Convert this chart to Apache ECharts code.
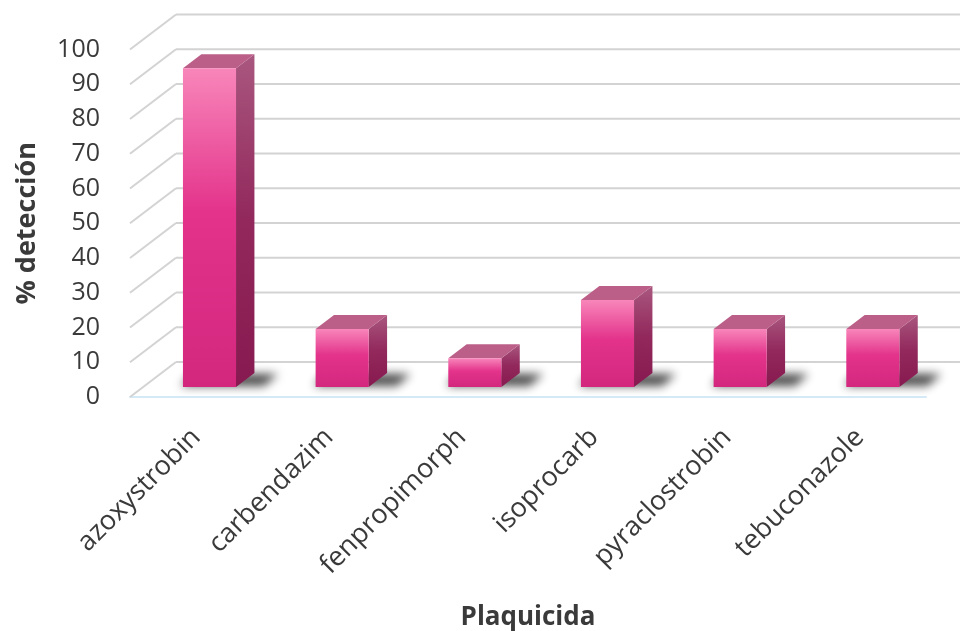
<!DOCTYPE html>
<html>
<head>
<meta charset="utf-8">
<script src="https://cdn.jsdelivr.net/npm/echarts@6/dist/echarts.min.js"></script>
<style>
  html, body { margin: 0; padding: 0; background: #fff; }
  #chart { width: 960px; height: 631px; }
</style>
</head>
<body>
<div id="chart"></div>
<script>
const categories = ['azoxystrobin', 'carbendazim', 'fenpropimorph', 'isoprocarb', 'pyraclostrobin', 'tebuconazole'];
const detection = [91.7, 16.7, 8.3, 25, 16.7, 16.7];
const yTicks = [0, 10, 20, 30, 40, 50, 60, 70, 80, 90, 100];

// fake 3D depth (px) of the floor / back wall, and where the bars sit in it
const DEPTH_X = 46, DEPTH_Y = -35;
const BAR_FRONT = 0.286, BAR_BACK = 0.686;

const chart = echarts.init(document.getElementById('chart'), null, { renderer: 'canvas' });

const font = '"Open Sans", sans-serif';

function renderWall(params, api) {
  const cs = params.coordSys;
  const y = api.coord([0, api.value(1)])[1];
  const x0 = cs.x;
  const style = { stroke: '#D3D3D3', lineWidth: 2 };
  return {
    type: 'group',
    children: [
      { type: 'line', shape: { x1: x0, y1: y, x2: x0 + DEPTH_X, y2: y + DEPTH_Y }, style },
      { type: 'line', shape: { x1: x0 + DEPTH_X, y1: y + DEPTH_Y, x2: 960, y2: y + DEPTH_Y }, style }
    ]
  };
}

function renderBar(params, api) {
  const idx = api.value(0);
  const base = api.coord([idx, 0]);
  const top = api.coord([idx, api.value(1)]);
  const w = api.size([1, 0])[0] * 0.4;
  const fx = DEPTH_X * BAR_FRONT, fy = DEPTH_Y * BAR_FRONT;
  const dx = DEPTH_X * (BAR_BACK - BAR_FRONT), dy = DEPTH_Y * (BAR_BACK - BAR_FRONT);
  const fl = base[0] - w / 2 + fx, fr = base[0] + w / 2 + fx;
  const by = base[1] + fy, ty = top[1] + fy;
  const far = 3000;
  return {
    type: 'group',
    children: [
      {
        // shadow on the floor, drawn off-screen so only its blur shows
        type: 'polygon',
        shape: { points: [[fl - 2 - far, by - 1], [fr + 28 - far, by - 1], [fr + 42 - far, by - 13], [fl + 10 - far, by - 14]] },
        style: { fill: 'rgba(0,0,0,0.85)', shadowBlur: 10, shadowColor: 'rgba(10,10,10,0.85)', shadowOffsetX: far, shadowOffsetY: 0 }
      },
      {
        type: 'polygon',
        shape: { points: [[fr, ty], [fr + dx, ty + dy], [fr + dx, by + dy], [fr, by]] },
        style: {
          fill: new echarts.graphic.LinearGradient(0, 0, 0, 1, [
            { offset: 0, color: '#A9577F' },
            { offset: 0.5, color: '#92285C' },
            { offset: 1, color: '#871A50' }
          ])
        }
      },
      {
        type: 'polygon',
        shape: { points: [[fl, ty], [fr, ty], [fr + dx, ty + dy], [fl + dx, ty + dy]] },
        style: { fill: '#BC5F88' }
      },
      {
        type: 'rect',
        shape: { x: fl, y: ty, width: fr - fl, height: by - ty },
        style: {
          fill: new echarts.graphic.LinearGradient(0, 0, 0, 1, [
            { offset: 0, color: '#F886BA' },
            { offset: 0.45, color: '#E3338B' },
            { offset: 1, color: '#D3277E' }
          ])
        }
      }
    ]
  };
}

const option = {
  backgroundColor: '#ffffff',
  animation: false,
  grid: { left: 130, right: 34, top: 49.5, bottom: 234, outerBoundsMode: 'none' },
  xAxis: {
    type: 'category',
    data: categories,
    name: 'Plaquicida',
    nameLocation: 'middle',
    nameGap: 208,
    nameTextStyle: { fontFamily: font, fontSize: 26, fontWeight: 'bold', color: '#3A3A3A' },
    axisLine: { lineStyle: { color: '#D5EAF7', width: 2 } },
    axisTick: { show: false },
    axisLabel: { rotate: 45, margin: 36, interval: 0, fontFamily: font, fontSize: 27, color: '#3A3A3A' }
  },
  yAxis: {
    type: 'value',
    min: 0,
    max: 100,
    interval: 10,
    name: '% detección',
    nameLocation: 'middle',
    nameGap: 89,
    nameTextStyle: { fontFamily: font, fontSize: 27, fontWeight: 'bold', color: '#3A3A3A' },
    axisLine: { show: false },
    axisTick: { show: false },
    splitLine: { show: false },
    axisLabel: { margin: 30, fontFamily: font, fontSize: 25, color: '#3A3A3A',
      formatter: v => (yTicks.indexOf(v) >= 0 ? String(v) : '') }
  },
  series: [
    {
      type: 'custom',
      name: 'wall',
      z: 1,
      silent: true,
      renderItem: renderWall,
      data: yTicks.map(v => [0, v])
    },
    {
      type: 'custom',
      name: '% detección',
      z: 3,
      renderItem: renderBar,
      data: detection.map((v, i) => [i, v])
    }
  ]
};

chart.setOption(option);
</script>
</body>
</html>
